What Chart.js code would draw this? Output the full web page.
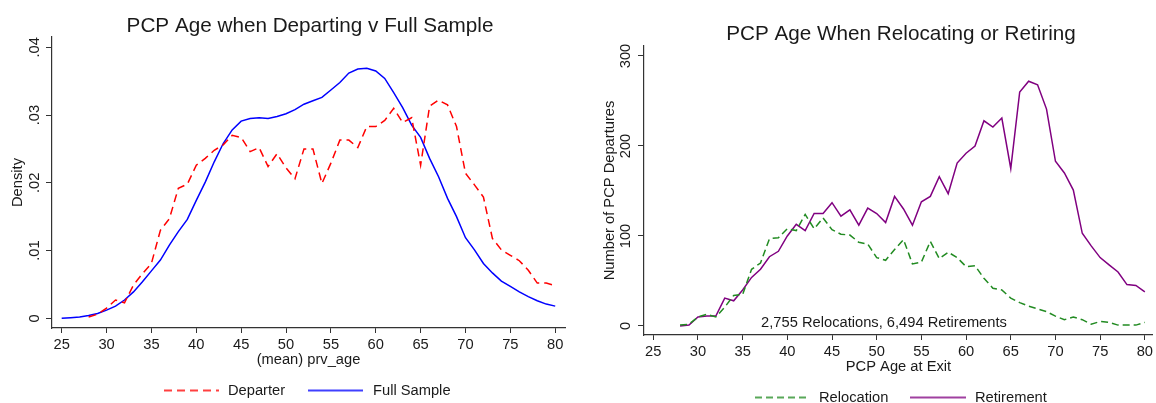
<!DOCTYPE html>
<html>
<head>
<meta charset="utf-8">
<script src="https://cdn.jsdelivr.net/npm/chart.js@4/dist/chart.umd.min.js"></script>
<style>
  html, body { margin: 0; padding: 0; background: #fff; }
  #wrap { position: relative; width: 1156px; height: 403px; overflow: hidden; background: #fff; }
  #c1 { position: absolute; left: 0; top: 0; }
  #c2 { position: absolute; left: 578px; top: 0; }
</style>
</head>
<body>
<div id="wrap">
  <canvas id="c1" width="578" height="403"></canvas>
  <canvas id="c2" width="578" height="403"></canvas>
</div>
<script>
// ---------- data ----------
const fullAges = [25,26,27,28,29,30,31,32,33,34,35,36,37,38,39,40,41,42,43,44,45,46,47,48,49,50,51,52,53,54,55,56,57,58,59,60,61,62,63,64,65,66,67,68,69,70,71,72,73,74,75,76,77,78,79,80];
const fullSample = [0.0000,0.0001,0.0002,0.0004,0.0007,0.0012,0.0018,0.0027,0.0039,0.0054,0.0070,0.0086,0.0108,0.0128,0.0146,0.0174,0.0201,0.0231,0.0258,0.0278,0.0291,0.0295,0.0296,0.0295,0.0298,0.0302,0.0308,0.0316,0.0321,0.0326,0.0337,0.0348,0.0362,0.0368,0.0369,0.0365,0.0354,0.0333,0.0311,0.0285,0.0267,0.0236,0.0209,0.0177,0.0150,0.0119,0.0101,0.0081,0.0067,0.0055,0.0047,0.0039,0.0032,0.0026,0.0021,0.0018];
const departAges = [28,29,30,31,32,33,34,35,36,37,38,39,40,41,42,43,44,45,46,47,48,49,50,51,52,53,54,55,56,57,58,59,60,61,62,63,64,65,66,67,68,69,70,71,72,73,74,75,76,77,78,79,80];
const departer = [0.0002,0.0006,0.0015,0.0027,0.0023,0.0049,0.0066,0.0081,0.0130,0.0147,0.0192,0.0198,0.0226,0.0236,0.0248,0.0256,0.0270,0.0267,0.0246,0.0252,0.0224,0.0243,0.0222,0.0206,0.0250,0.0250,0.0199,0.0229,0.0263,0.0263,0.0252,0.0283,0.0283,0.0292,0.0310,0.0289,0.0296,0.0226,0.0313,0.0322,0.0315,0.0283,0.0214,0.0197,0.0179,0.0118,0.0101,0.0093,0.0085,0.0071,0.0052,0.0052,0.0048];

const exitAges = [28,29,30,31,32,33,34,35,36,37,38,39,40,41,42,43,44,45,46,47,48,49,50,51,52,53,54,55,56,57,58,59,60,61,62,63,64,65,66,67,68,69,70,71,72,73,74,75,76,77,78,79,80];
const relocation = [1,2,10,13,10,21,34,35,63,70,97,98,108,106,124,108,120,107,102,101,93,91,76,73,85,96,69,71,94,75,82,76,66,67,53,42,40,31,26,22,19,16,11,7,10,7,2,5,4,1,1,1,4];
const retirement = [0,1,10,11,11,31,28,40,54,63,77,83,100,113,106,125,125,137,122,129,112,131,125,115,144,130,112,138,144,166,147,181,192,200,228,221,231,175,260,272,268,241,183,170,151,103,89,76,68,60,46,45,38];

const xTicks = [25,30,35,40,45,50,55,60,65,70,75,80];
const densityTicks = [0, 0.01, 0.02, 0.03, 0.04];
const densityTickLabels = ['0', '.01', '.02', '.03', '.04'];
const countTicks = [0, 100, 200, 300];
const countTickLabels = ['0', '100', '200', '300'];

// ---------- helpers ----------
const FONT = '"Liberation Sans", Arial, Helvetica, sans-serif';
const TXT = '#1a1a1a';
const AXIS = '#333333';

function pts(xs, ys) { return xs.map((x, i) => ({ x: x, y: ys[i] })); }

const textPlugin = {
  id: 'stataText',
  afterDraw(chart, args, o) {
    const ctx = chart.ctx;
    const ys = chart.scales.y;
    ctx.save();
    ctx.fillStyle = TXT;
    // title
    ctx.font = '20.7px ' + FONT;
    ctx.textAlign = 'center';
    ctx.textBaseline = 'alphabetic';
    ctx.fillText(o.title, o.titleX, o.titleY);
    // y tick labels (rotated)
    ctx.font = '14.7px ' + FONT;
    o.yTicks.forEach((v, i) => {
      const py = ys.getPixelForValue(v);
      ctx.save();
      ctx.translate(o.yTickX, py);
      ctx.rotate(-Math.PI / 2);
      ctx.textAlign = 'center';
      ctx.textBaseline = 'middle';
      ctx.fillText(o.yTickLabels[i], 0, 0);
      ctx.restore();
    });
    // y title
    ctx.save();
    ctx.translate(o.yTitleX, (chart.chartArea.top + chart.chartArea.bottom) / 2);
    ctx.rotate(-Math.PI / 2);
    ctx.textAlign = 'center';
    ctx.textBaseline = 'middle';
    ctx.fillText(o.yTitle, 0, 0);
    ctx.restore();
    // x title
    ctx.textAlign = 'center';
    ctx.textBaseline = 'middle';
    ctx.fillText(o.xTitle, (chart.chartArea.left + chart.chartArea.right) / 2, o.xTitleY);
    // annotation
    if (o.note) {
      ctx.fillText(o.note, o.noteX, o.noteY);
    }
    // legend
    const ds = chart.data.datasets;
    o.legend.forEach((it, i) => {
      const d = ds[i];
      ctx.save();
      ctx.strokeStyle = d.borderColor;
      ctx.globalAlpha = 0.75;
      ctx.lineWidth = 2;
      ctx.setLineDash(d.borderDash || []);
      ctx.beginPath();
      ctx.moveTo(it.x0, o.legendY);
      ctx.lineTo(it.x1, o.legendY);
      ctx.stroke();
      ctx.restore();
      ctx.textAlign = 'left';
      ctx.textBaseline = 'middle';
      ctx.fillText(d.label, it.tx, o.legendY);
    });
    ctx.restore();
  }
};

function makeChart(id, cfg) {
  return new Chart(document.getElementById(id), {
    type: 'line',
    data: { datasets: cfg.datasets },
    plugins: [textPlugin],
    options: {
      responsive: false,
      animation: false,
      devicePixelRatio: 1,
      layout: { autoPadding: false, padding: cfg.padding },
      elements: { point: { radius: 0 }, line: { tension: 0, borderWidth: 1.5 } },
      plugins: {
        legend: { display: false },
        title: { display: false },
        tooltip: { enabled: false },
        stataText: cfg.text
      },
      scales: {
        x: {
          type: 'linear',
          min: cfg.xMin, max: cfg.xMax,
          afterBuildTicks: s => { s.ticks = xTicks.map(v => ({ value: v })); },
          afterFit: s => { s.height = 40; },
          border: { display: true, color: AXIS, width: 1.2 },
          grid: { drawOnChartArea: false, drawTicks: true, tickLength: 5, color: AXIS, lineWidth: 1 },
          ticks: { color: TXT, font: { family: FONT, size: 14.7 }, padding: cfg.xTickPad, maxRotation: 0, autoSkip: false }
        },
        y: {
          type: 'linear',
          min: cfg.yMin, max: cfg.yMax,
          afterBuildTicks: s => { s.ticks = cfg.yTicks.map(v => ({ value: v })); },
          afterFit: s => { s.width = cfg.yWidth; },
          border: { display: true, color: AXIS, width: 1.2 },
          grid: { drawOnChartArea: false, drawTicks: true, tickLength: 6, color: AXIS, lineWidth: 1 },
          ticks: { color: 'rgba(0,0,0,0)', font: { family: FONT, size: 14.7 } }
        }
      }
    }
  });
}

makeChart('c1', {
  datasets: [
    { label: 'Departer', data: pts(departAges, departer), borderColor: '#ff0000', borderDash: [8, 5], fill: false },
    { label: 'Full Sample', data: pts(fullAges, fullSample), borderColor: '#0000ff', fill: false }
  ],
  padding: { top: 37, left: 0, right: 13, bottom: 35 },
  xMin: 23.92, xMax: 81.09,
  yMin: -0.00143, yMax: 0.04152,
  yTicks: densityTicks,
  yWidth: 52,
  xTickPad: 3,
  text: {
    title: 'PCP Age when Departing v Full Sample', titleX: 310, titleY: 31.5,
    yTicks: densityTicks, yTickLabels: densityTickLabels, yTickX: 34.5,
    yTitle: 'Density', yTitleX: 18,
    xTitle: '(mean) prv_age', xTitleY: 360,
    legendY: 390.5,
    legend: [ { x0: 164, x1: 219, tx: 228 }, { x0: 308, x1: 363, tx: 373 } ]
  }
});

makeChart('c2', {
  datasets: [
    { label: 'Relocation', data: pts(exitAges, relocation), borderColor: '#228b22', borderDash: [7, 4], fill: false },
    { label: 'Retirement', data: pts(exitAges, retirement), borderColor: '#800080', fill: false }
  ],
  padding: { top: 46, left: 0, right: 0, bottom: 28 },
  xMin: 23.965, xMax: 80.91,
  yMin: -10, yMax: 311.1,
  yTicks: countTicks,
  yWidth: 66,
  xTickPad: 3,
  text: {
    title: 'PCP Age When Relocating or Retiring', titleX: 323, titleY: 40,
    yTicks: countTicks, yTickLabels: countTickLabels, yTickX: 47.5,
    yTitle: 'Number of PCP Departures', yTitleX: 31.5,
    xTitle: 'PCP Age at Exit', xTitleY: 367,
    note: '2,755 Relocations, 6,494 Retirements', noteX: 306, noteY: 322.5,
    legendY: 397.5,
    legend: [ { x0: 177, x1: 232, tx: 241 }, { x0: 332, x1: 388, tx: 397 } ]
  }
});
</script>
</body>
</html>
